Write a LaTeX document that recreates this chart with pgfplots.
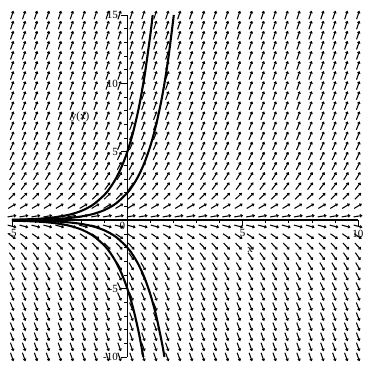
\documentclass[border=0pt]{standalone}
\usepackage{pgfplots}
\usepackage{pgfplotstable}
\pgfplotsset{compat=1.18}
\usepackage{fontspec}
\setmainfont{Liberation Serif}
\usetikzlibrary{arrows.meta}

\pgfplotstableread{
y m
-10 -10
-9.2647 -9.2647
-8.5294 -8.5294
-7.7941 -7.7941
-7.0588 -7.0588
-6.3235 -6.3235
-5.5882 -5.5882
-4.8529 -4.8529
-4.1176 -4.1176
-3.3824 -3.3824
-2.6471 -2.6471
-1.9118 -1.9118
-1.1765 -1.1765
-0.4412 -0.4412
0.2941 0.2941
1.0294 1.0294
1.7647 1.7647
2.5000 2.5000
3.2353 3.2353
3.9706 3.9706
4.7059 4.7059
5.4412 5.4412
6.1765 6.1765
6.9118 6.9118
7.6471 7.6471
8.3824 8.3824
9.1176 9.1176
9.8529 9.8529
10.5882 10.5882
11.3235 11.3235
12.0588 12.0588
12.7941 12.7941
13.5294 13.5294
14.2647 14.2647
15.0 15.0
}\fieldrows

\begin{document}
\begin{tikzpicture}
\begin{axis}[
  scale only axis, width=346pt, height=342pt,
  xmin=-5, xmax=10, ymin=-10, ymax=15,
  axis lines=middle,
  axis line style={black, line width=0.7pt, -},
  clip=false,
  declare function={s(\m)=0.593*\m/sqrt(1+0.035*\m*\m);},
  xtick={-5,5,10}, xticklabels={-5,5,10},
  ytick={-10,-5,5,10,15}, yticklabels={-10,-5,5,10,15},
  minor xtick={-4,-3,-2,-1,1,2,3,4,6,7,8,9},
  minor ytick={-9,-8,-7,-6,-4,-3,-2,-1,1,2,3,4,6,7,8,9,11,12,13,14},
  tick align=outside,
  major tick length=6pt, minor tick length=3pt,
  tick style={black, line width=0.7pt},
  tick label style={font=\fontsize{11}{11}\selectfont},
  /pgf/number format/assume math mode=true,
]
\pgfplotsinvokeforeach{0,...,29}{
  \addplot[black, line width=1.05pt, quiver={
     u={0.3901/sqrt(1+(s(\thisrow{m}))^2)},
     v={0.6579*s(\thisrow{m})/sqrt(1+(s(\thisrow{m}))^2)},
     every arrow/.append style={-{Straight Barb[length=1.6pt,width=2.6pt]}}
  }] table[x expr={-5+#1*15/29-0.1950/sqrt(1+(s(\thisrow{m}))^2)},
           y expr={\thisrow{y}-0.3290*s(\thisrow{m})/sqrt(1+(s(\thisrow{m}))^2)}] {\fieldrows};
}
\addplot[black, line width=2.1pt] coordinates {(-5,0) (10,0)};
\addplot[black, line width=2.1pt, smooth] coordinates {
(-5,0.0337) (-4.5,0.0555) (-4,0.0916) (-3.5,0.151) (-3,0.249) (-2.5,0.410) (-2,0.677) (-1.5,1.116) (-1,1.839) (-0.75,2.362) (-0.5,3.033) (-0.25,3.894) (0,5) (0.25,6.420) (0.5,8.244) (0.75,10.585) (1,13.591) (1.0986,15)};
\addplot[black, line width=2.1pt, smooth] coordinates {
(-5,-0.0337) (-4.5,-0.0555) (-4,-0.0916) (-3.5,-0.151) (-3,-0.249) (-2.5,-0.410) (-2,-0.677) (-1.5,-1.116) (-1,-1.839) (-0.75,-2.362) (-0.5,-3.033) (-0.25,-3.894) (0,-5) (0.25,-6.420) (0.5,-8.244) (0.6931,-10)};
\addplot[black, line width=2.1pt, smooth] coordinates {
(-5,0.0135) (-4.5,0.0222) (-4,0.0366) (-3.5,0.0604) (-3,0.0996) (-2.5,0.164) (-2,0.271) (-1.5,0.446) (-1,0.736) (-0.5,1.213) (0,2) (0.25,2.568) (0.5,3.297) (0.75,4.234) (1,5.437) (1.25,6.981) (1.5,8.963) (1.75,11.509) (2.0149,15)};
\addplot[black, line width=2.1pt, smooth] coordinates {
(-5,-0.0135) (-4.5,-0.0222) (-4,-0.0366) (-3.5,-0.0604) (-3,-0.0996) (-2.5,-0.164) (-2,-0.271) (-1.5,-0.446) (-1,-0.736) (-0.5,-1.213) (0,-2) (0.25,-2.568) (0.5,-3.297) (0.75,-4.234) (1,-5.437) (1.25,-6.981) (1.5,-8.963) (1.6094,-10)};
\node[anchor=north east, font=\fontsize{11}{11}\selectfont, inner sep=2pt] at (axis cs:0,0) {0};
\node[font=\fontsize{11}{11}\selectfont] at (axis cs:5.32,-2.19) {x};
\node[font=\fontsize{11}{11}\selectfont] at (axis cs:-2.05,7.53) {y(x)};
\coordinate (ll) at (axis cs:-5,-10);
\coordinate (ur) at (axis cs:10,15);
\end{axis}
\pgfresetboundingbox
\useasboundingbox ([shift={(-12pt,-8pt)}]ll) rectangle ([shift={(7pt,15pt)}]ur);
\end{tikzpicture}
\end{document}
